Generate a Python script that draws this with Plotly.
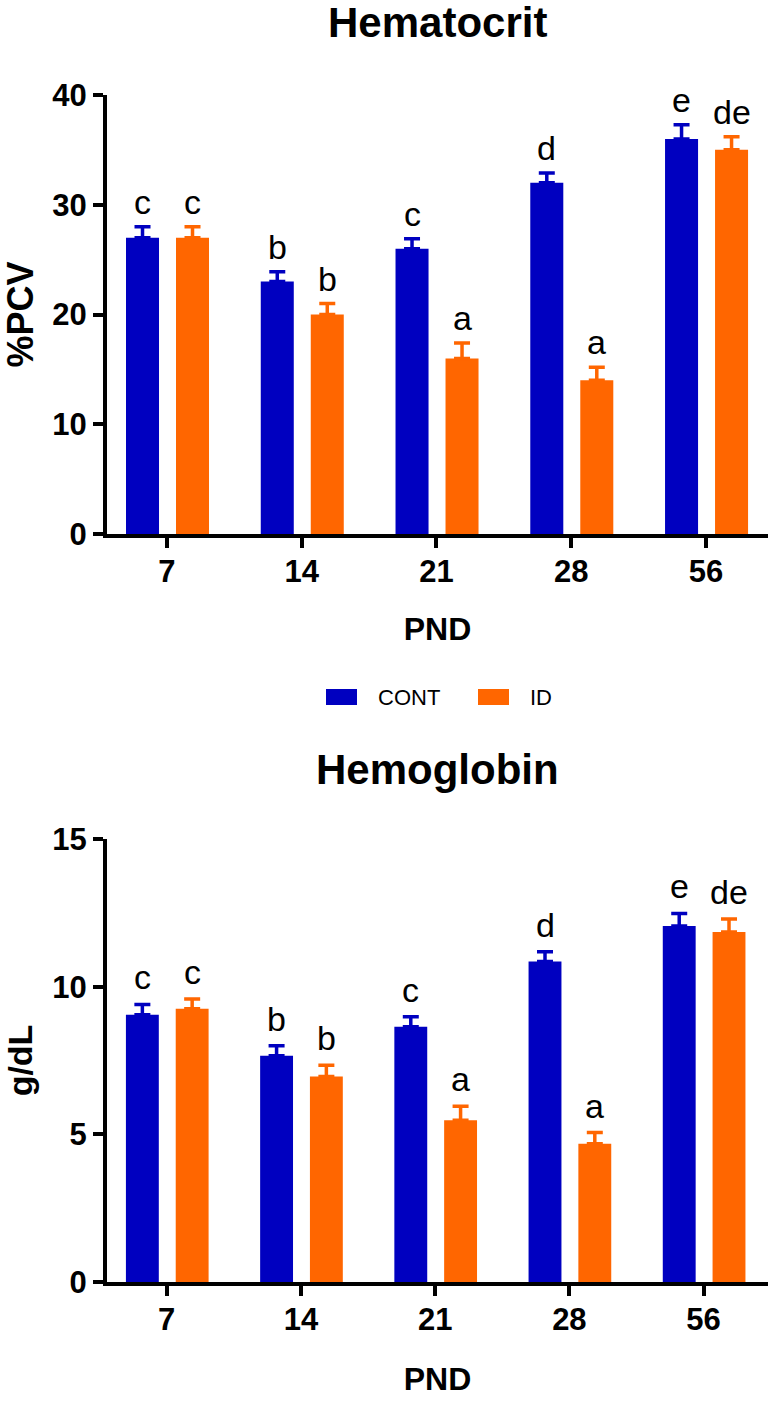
import plotly.graph_objects as go

pnd = ["7", "14", "21", "28", "56"]

hct_cont = [27, 23, 26, 32, 36]
hct_cont_err = [1.0, 0.9, 0.9, 0.9, 1.3]
hct_id = [27, 20, 16, 14, 35]
hct_id_err = [1.0, 1.0, 1.4, 1.2, 1.2]
hct_cont_lbl = ["c", "b", "c", "d", "e"]
hct_id_lbl = ["c", "b", "a", "a", "de"]

hgb_cont = [9.05, 7.66, 8.64, 10.85, 12.05]
hgb_cont_err = [0.35, 0.34, 0.34, 0.33, 0.43]
hgb_id = [9.25, 6.96, 5.48, 4.68, 11.85]
hgb_id_err = [0.33, 0.38, 0.47, 0.38, 0.44]
hgb_cont_lbl = ["c", "b", "c", "d", "e"]
hgb_id_lbl = ["c", "b", "a", "a", "de"]

series_names = ["CONT", "ID"]

BLUE = "#0000C0"
ORANGE = "#FF6600"
FONT = "Liberation Sans, Arial, sans-serif"

BAR_W = 0.245
OFF_CONT = -0.304
OFF_ID = 0.067

W, H = 784, 1404

fig = go.Figure()


def add_panel(cont, cont_err, idv, id_err, xa, ya):
    fig.add_trace(go.Bar(
        x=pnd, y=cont, name=series_names[0], marker=dict(color=BLUE, line=dict(width=0)),
        width=BAR_W, offset=OFF_CONT, xaxis=xa, yaxis=ya, showlegend=False,
        error_y=dict(type="data", symmetric=False, array=cont_err, arrayminus=[0] * len(cont),
                     color=BLUE, thickness=3.5, width=8),
    ))
    fig.add_trace(go.Bar(
        x=pnd, y=idv, name=series_names[1], marker=dict(color=ORANGE, line=dict(width=0)),
        width=BAR_W, offset=OFF_ID, xaxis=xa, yaxis=ya, showlegend=False,
        error_y=dict(type="data", symmetric=False, array=id_err, arrayminus=[0] * len(idv),
                     color=ORANGE, thickness=3.5, width=8),
    ))


add_panel(hct_cont, hct_cont_err, hct_id, hct_id_err, "x", "y")
add_panel(hgb_cont, hgb_cont_err, hgb_id, hgb_id_err, "x2", "y2")

annotations = []
shapes = []


def add_letters(vals, errs, lbls, off, xref, yref, yshift):
    for i, (v, e, t) in enumerate(zip(vals, errs, lbls)):
        annotations.append(dict(
            x=i + off + BAR_W / 2, y=v + e, xref=xref, yref=yref, text=t,
            showarrow=False, yanchor="bottom", xanchor="center", yshift=yshift,
            font=dict(family=FONT, size=34, color="black"),
        ))


add_letters(hct_cont, hct_cont_err, hct_cont_lbl, OFF_CONT, "x", "y", 4)
add_letters(hct_id, hct_id_err, hct_id_lbl, OFF_ID, "x", "y", 4)
add_letters(hgb_cont, hgb_cont_err, hgb_cont_lbl, OFF_CONT, "x2", "y2", 6)
add_letters(hgb_id, hgb_id_err, hgb_id_lbl, OFF_ID, "x2", "y2", 6)

for txt, yp in [("Hematocrit", 22), ("Hemoglobin", 769)]:
    annotations.append(dict(
        x=0.558, y=1 - yp / H, xref="paper", yref="paper", text="<b>%s</b>" % txt,
        showarrow=False, xanchor="center", yanchor="middle",
        font=dict(family=FONT, size=42, color="black"),
    ))

# legend (swatches + labels)
for name, col, x0, tx in [(series_names[0], BLUE, 326, 376), (series_names[1], ORANGE, 478, 528)]:
    shapes.append(dict(type="rect", xref="paper", yref="paper",
                       x0=x0 / W, x1=(x0 + 31) / W, y0=1 - 705 / H, y1=1 - 689 / H,
                       fillcolor=col, line=dict(width=0)))
    annotations.append(dict(x=tx / W, y=1 - 697 / H, xref="paper", yref="paper", text=name,
                            showarrow=False, xanchor="left", yanchor="middle",
                            font=dict(family=FONT, size=22, color="black")))

axis_common = dict(
    showline=True, linecolor="black", linewidth=4, ticks="outside", ticklen=10,
    tickwidth=4, tickcolor="black", showgrid=False, zeroline=False, automargin=False,
)

xdom = [107 / W, 768 / W]
fig.update_layout(
    width=W, height=H,
    margin=dict(l=0, r=0, t=0, b=0),
    paper_bgcolor="white", plot_bgcolor="white",
    barmode="overlay",
    font=dict(family=FONT, color="black"),
    showlegend=False,
    annotations=annotations,
    shapes=shapes,
    xaxis=dict(domain=xdom, anchor="y", type="category", range=[-0.445, 4.46],
               tickfont=dict(family=FONT, size=31, weight="bold"), ticklabelstandoff=-3,
               title=dict(text="<b>PND</b>", font=dict(family=FONT, size=32), standoff=30),
               **axis_common),
    yaxis=dict(domain=[1 - 534 / H, 1 - 95 / H], anchor="x", range=[0, 40],
               tickvals=[0, 10, 20, 30, 40],
               tickfont=dict(family=FONT, size=31, weight="bold"),
               title=dict(text="<b>%PCV</b>", font=dict(family=FONT, size=36), standoff=12),
               **axis_common),
    xaxis2=dict(domain=xdom, anchor="y2", type="category", range=[-0.445, 4.48],
                tickfont=dict(family=FONT, size=31, weight="bold"), ticklabelstandoff=-3,
                title=dict(text="<b>PND</b>", font=dict(family=FONT, size=32), standoff=32),
                **axis_common),
    yaxis2=dict(domain=[1 - 1282 / H, 1 - 839 / H], anchor="x2", range=[0, 15],
                tickvals=[0, 5, 10, 15],
                tickfont=dict(family=FONT, size=31, weight="bold"),
                title=dict(text="<b>g/dL</b>", font=dict(family=FONT, size=34), standoff=10),
                **axis_common),
)

fig.write_html("out.html", config={"displayModeBar": False},
               post_script="document.body.style.margin='0px';")
